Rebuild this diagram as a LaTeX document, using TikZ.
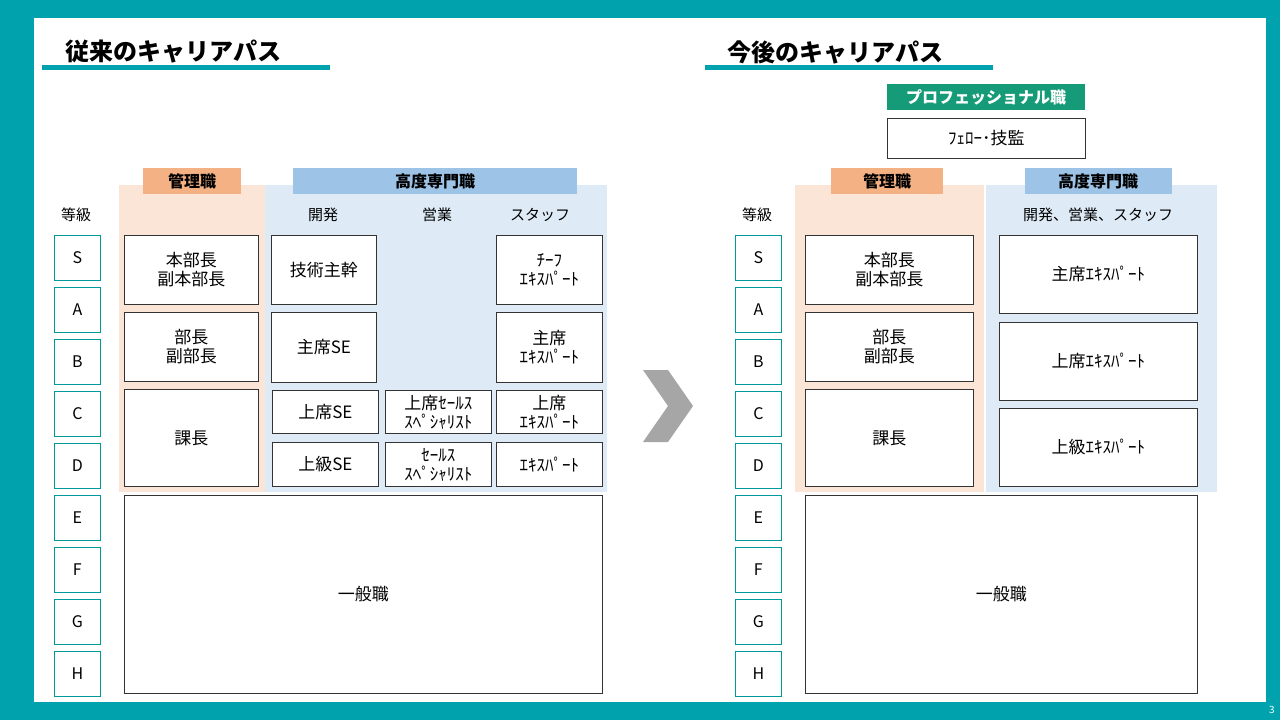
\documentclass[tikz,border=0pt]{standalone}
\usepackage{fontspec}
\setmainfont{Noto Sans CJK JP}
\begin{document}
\begin{tikzpicture}[x=1pt,y=-1pt,
 box/.style={draw=black!80,line width=0.8pt,fill=white,align=center,font=\fontsize{17}{19}\selectfont,inner sep=0pt},
 grade/.style={draw=teal!80!cyan,line width=0.8pt,fill=white,minimum width=46pt,minimum height=45pt,font=\fontsize{16}{18}\selectfont,inner sep=0pt},
 tag/.style={font=\bfseries\fontsize{16}{18}\selectfont,inner sep=0pt},
 hdr/.style={font=\fontsize{15}{17}\selectfont},
 ttl/.style={font=\bfseries\fontsize{24}{26}\selectfont,anchor=west}]
\definecolor{tealc}{HTML}{00A3AD}
\definecolor{pinkbg}{HTML}{FBE5D6}
\definecolor{bluebg}{HTML}{DEEBF7}
\definecolor{orng}{HTML}{F4B183}
\definecolor{blu}{HTML}{9DC3E6}
\definecolor{grn}{HTML}{159B77}
\fill[tealc] (0,0) rectangle (1280,720);
\fill[white] (34,18) rectangle (1266,702);
\useasboundingbox (0,0) rectangle (1280,720);
\node[font=\fontsize{10}{12}\selectfont,text=white] (pg) at (1272,710) {3};
% titles
\node[ttl] (t1) at (62,52) {従来のキャリアパス};
\fill[tealc] (42,65) rectangle (330,70);
\node[ttl] (t2) at (724,52) {今後のキャリアパス};
\fill[tealc] (705,65) rectangle (993,70);
% left bgs
\fill[pinkbg] (119,185) rectangle (265,492);
\fill[bluebg] (265,185) rectangle (607,492);
\fill[orng] (143,168) rectangle (241,194); \node[tag] (k1) at (192,181) {管理職};
\fill[blu] (293,168) rectangle (577,194); \node[tag] (s1) at (435,181) {高度専門職};
\node[hdr] (h1) at (76,215) {等級};
\node[hdr] (h2) at (323,215) {開発};
\node[hdr] (h3) at (437,215) {営業};
\node[hdr] (h4) at (540,215) {スタッフ};
% grades
\foreach \g/\y [count=\i] in {S/235,A/287,B/339,C/391,D/443,E/495,F/547,G/599,H/651}{
 \node[grade,anchor=north west] (lg\i) at (54,\y) {\g};
 \node[grade,anchor=north west] (rg\i) at (735,\y) {\g};
}
\newcommand{\bx}[6]{\node[box,minimum width={#4-#2},minimum height={#5-#3},anchor=north west] (#1) at (#2,#3) {#6};}
\bx{l1}{124}{235}{258}{304}{本部長\\副本部長}
\bx{l2}{124}{312}{258}{381}{部長\\副部長}
\bx{l3}{124}{389}{258}{486}{課長}
\bx{l4}{124}{495}{602}{693}{一般職}
\bx{d1}{271}{235}{376}{304}{技術主幹}
\bx{d2}{271}{312}{376}{382}{主席SE}
\bx{d3}{272}{390}{378}{433}{上席SE}
\bx{d4}{272}{442}{378}{486}{上級SE}
\bx{e1}{385}{390}{491}{433}{上席ｾｰﾙｽ\\ｽﾍﾟｼｬﾘｽﾄ}
\bx{e2}{385}{442}{491}{486}{ｾｰﾙｽ\\ｽﾍﾟｼｬﾘｽﾄ}
\bx{f1}{496}{235}{602}{304}{ﾁｰﾌ\\ｴｷｽﾊﾟｰﾄ}
\bx{f2}{496}{312}{602}{382}{主席\\ｴｷｽﾊﾟｰﾄ}
\bx{f3}{496}{390}{602}{433}{上席\\ｴｷｽﾊﾟｰﾄ}
\bx{f4}{496}{442}{602}{486}{ｴｷｽﾊﾟｰﾄ}
% chevron
\fill[black!35] (643,370) -- (668,370) -- (693,406) -- (668,442) -- (643,442) -- (668,406) -- cycle;
% right
\fill[grn] (887,84) rectangle (1085,110); \node[tag,text=white] (p1) at (986,97) {プロフェッショナル職};
\bx{p2}{887}{118}{1085}{158}{ﾌｪﾛｰ･技監}
\fill[pinkbg] (795,185) rectangle (984,492);
\fill[bluebg] (986,185) rectangle (1217,492);
\fill[orng] (831,168) rectangle (943,194); \node[tag] (k2) at (887,181) {管理職};
\fill[blu] (1025,168) rectangle (1172,194); \node[tag] (s2) at (1098,181) {高度専門職};
\node[hdr] (h5) at (757,215) {等級};
\node[hdr] (h6) at (1098,215) {開発、営業、スタッフ};
\bx{r1}{805}{235}{973}{304}{本部長\\副本部長}
\bx{r2}{805}{312}{973}{381}{部長\\副部長}
\bx{r3}{805}{389}{973}{486}{課長}
\bx{r4}{805}{495}{1197}{693}{一般職}
\bx{x1}{999}{235}{1197}{313}{主席ｴｷｽﾊﾟｰﾄ}
\bx{x2}{999}{322}{1197}{400}{上席ｴｷｽﾊﾟｰﾄ}
\bx{x3}{999}{408}{1197}{486}{上級ｴｷｽﾊﾟｰﾄ}
\end{tikzpicture}
\end{document}
